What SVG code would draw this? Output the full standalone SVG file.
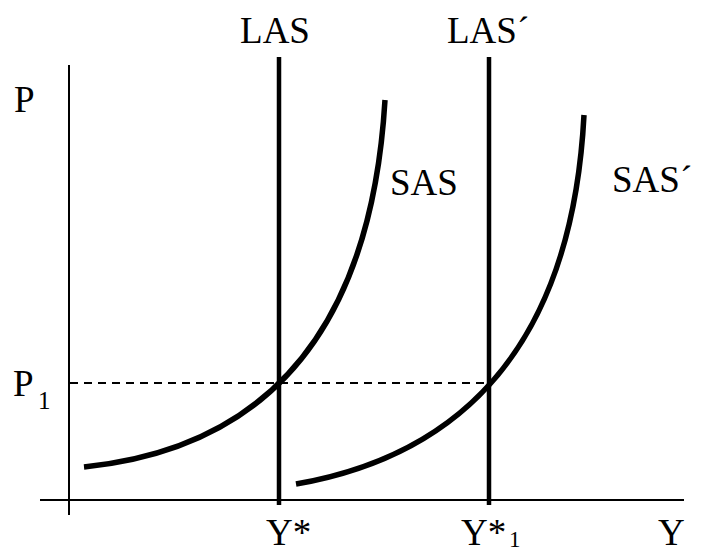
<svg xmlns="http://www.w3.org/2000/svg" width="702" height="553" viewBox="0 0 702 553">
<style>
.axis{stroke:#000;stroke-width:2;fill:none}
.las{stroke:#000;stroke-width:4.5;fill:none}
.sas{stroke:#000;stroke-width:5.5;fill:none}
.dash{stroke:#000;stroke-width:2;stroke-dasharray:8 6;fill:none}
</style>
<rect width="702" height="553" fill="#fff"/>
<g font-family="'Liberation Serif', 'DejaVu Serif', serif" font-size="37" fill="#000">
<g id="axes">
<line class="axis" x1="69" y1="65" x2="69" y2="515"/>
<line class="axis" x1="40" y1="500" x2="684" y2="500"/>
</g>
<g id="connectors">
<line class="dash" x1="70" y1="383" x2="489" y2="383"/>
</g>
<g id="LAS">
<line class="las" x1="279" y1="57" x2="279" y2="505"/>
<text x="275" y="43" text-anchor="middle">LAS</text>
</g>
<g id="LAS2">
<line class="las" x1="489" y1="57" x2="489" y2="505"/>
<text x="447" y="43">LAS´</text>
</g>
<g id="SAS">
<path class="sas" d="M84,467 C250,450 370,350 385,100"/>
<text x="390" y="195">SAS</text>
</g>
<g id="SAS2">
<path class="sas" d="M296,484 C462,455 572,345 584,115"/>
<text x="612" y="192">SAS´</text>
</g>
<g id="labels">
<text x="14" y="112">P</text>
<text x="13" y="396">P</text>
<text x="38" y="409" font-size="25">1</text>
<text x="266" y="545">Y*</text>
<text x="461" y="545">Y*</text>
<text x="509" y="547" font-size="23">1</text>
<text x="658" y="545">Y</text>
</g>
</g>
</svg>
